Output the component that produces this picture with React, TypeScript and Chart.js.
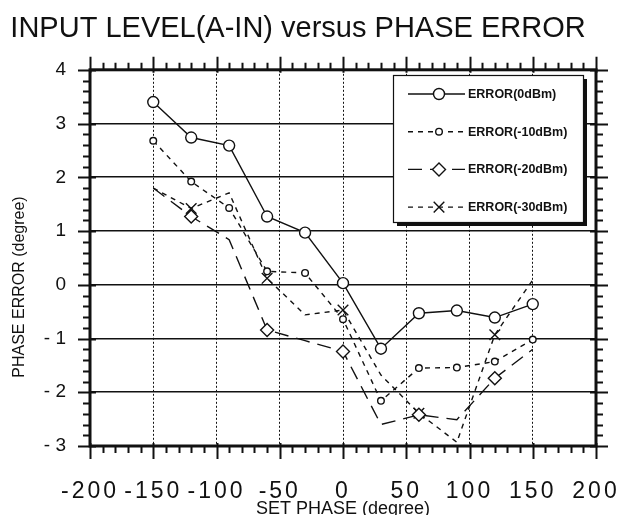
import React, { useEffect, useRef } from "react";
import { Chart, registerables } from "chart.js";

Chart.register(...registerables);

// ---- data ----
const phases = [-150, -120, -90, -60, -30, 0, 30, 60, 90, 120, 150];
const err0dBm = [3.4, 2.74, 2.59, 1.27, 0.97, 0.03, -1.19, -0.53, -0.48, -0.61, -0.36];
const errMinus10dBm = [2.68, 1.92, 1.43, 0.25, 0.22, -0.64, -2.16, -1.55, -1.54, -1.43, -1.02];
const errMinus20dBm = [1.8, 1.27, 0.84, -0.84, -1.04, -1.24, -2.6, -2.42, -2.51, -1.74, -1.2];
const errMinus30dBm = [1.8, 1.42, 1.71, 0.12, -0.56, -0.47, -1.68, -2.39, -2.93, -0.93, 0.09];
const seriesLabels = ["ERROR(0dBm)", "ERROR(-10dBm)", "ERROR(-20dBm)", "ERROR(-30dBm)"];

const chartTitle = "INPUT LEVEL(A-IN) versus PHASE ERROR";
const xTitle = "SET PHASE (degree)";
const yTitle = "PHASE ERROR (degree)";

const xMin = -200;
const xMax = 200;
const xMajorStep = 50;
const xMinorStep = 10;
const yMin = -3;
const yMax = 4;
const yMajorStep = 1;
const yMinorStep = 0.2;

const FONT = "'Liberation Sans', Arial, Helvetica, sans-serif";
const INK = "#111";

function drawMarker(ctx: CanvasRenderingContext2D, style: string, x: number, y: number, r: number) {
  ctx.beginPath();
  if (style === "circle") {
    ctx.arc(x, y, r, 0, Math.PI * 2);
    ctx.fill();
    ctx.stroke();
  } else if (style === "rectRot") {
    ctx.moveTo(x - r, y);
    ctx.lineTo(x, y - r);
    ctx.lineTo(x + r, y);
    ctx.lineTo(x, y + r);
    ctx.closePath();
    ctx.fill();
    ctx.stroke();
  } else if (style === "crossRot") {
    const d = r * Math.SQRT1_2;
    ctx.moveTo(x - d, y - d);
    ctx.lineTo(x + d, y + d);
    ctx.moveTo(x + d, y - d);
    ctx.lineTo(x - d, y + d);
    ctx.stroke();
  }
}

// x tick labels are drawn in a late layer (ticks.z = 1): give them the wide spacing of the original
const spacingPlugin = {
  id: "xLabelSpacing",
  afterDatasetsDraw(chart: any) {
    (chart.ctx as any).letterSpacing = "3px";
  },
  afterDraw(chart: any) {
    (chart.ctx as any).letterSpacing = "0px";
  },
};

const frameTicksPlugin = {
  id: "frameTicks",
  afterDraw(chart: any) {
    const { ctx, chartArea: a, scales } = chart;
    const xs = scales.x;
    const ys = scales.y;
    ctx.save();
    (ctx as any).letterSpacing = "0px";
    ctx.strokeStyle = INK;
    ctx.lineWidth = 2;
    ctx.setLineDash([]);
    const nx = Math.round((xMax - xMin) / xMinorStep);
    for (let i = 0; i <= nx; i++) {
      const v = xMin + i * xMinorStep;
      const px = Math.round(xs.getPixelForValue(v)) + 0.5;
      const major = Math.abs(v % xMajorStep) < 1e-6;
      const len = major ? 13 : 7;
      ctx.beginPath();
      ctx.moveTo(px, a.bottom - (major ? 3 : 0));
      ctx.lineTo(px, a.bottom + len);
      ctx.moveTo(px, a.top + (major ? 3 : 0));
      ctx.lineTo(px, a.top - len);
      ctx.stroke();
    }
    const ny = Math.round((yMax - yMin) / yMinorStep);
    for (let i = 0; i <= ny; i++) {
      const v = yMin + i * yMinorStep;
      const py = Math.round(ys.getPixelForValue(v)) + 0.5;
      const major = Math.abs(v - Math.round(v / yMajorStep) * yMajorStep) < 1e-6;
      const len = major ? 12 : 7;
      ctx.beginPath();
      ctx.moveTo(a.left + (major ? 6 : 0), py);
      ctx.lineTo(a.left - len, py);
      ctx.moveTo(a.right - (major ? 6 : 0), py);
      ctx.lineTo(a.right + len, py);
      ctx.stroke();
    }
    ctx.lineWidth = 3;
    ctx.strokeRect(a.left, a.top, a.right - a.left, a.bottom - a.top);

    // y axis title
    ctx.fillStyle = INK;
    ctx.font = `16px ${FONT}`;
    ctx.textAlign = "center";
    ctx.textBaseline = "middle";
    ctx.translate(20, 287);
    ctx.rotate(-Math.PI / 2);
    ctx.fillText(yTitle, 0, 0);
    ctx.restore();
  },
};

const boxLegendPlugin = {
  id: "boxLegend",
  afterDraw(chart: any) {
    const ctx: CanvasRenderingContext2D = chart.ctx;
    const bx = 393;
    const by = 75;
    const bw = 190;
    const bh = 147;
    ctx.save();
    (ctx as any).letterSpacing = "0px";
    ctx.fillStyle = INK;
    ctx.fillRect(bx + 4, by + 4, bw, bh);
    ctx.fillStyle = "#fff";
    ctx.fillRect(bx, by, bw, bh);
    ctx.strokeStyle = INK;
    ctx.lineWidth = 1.2;
    ctx.strokeRect(bx + 0.5, by + 0.5, bw, bh);

    chart.data.datasets.forEach((ds: any, i: number) => {
      const y = 94 + i * 37.7;
      ctx.strokeStyle = INK;
      ctx.lineWidth = ds.borderWidth;
      ctx.setLineDash(ds.borderDash || []);
      ctx.beginPath();
      ctx.moveTo(408, y);
      ctx.lineTo(465, y);
      ctx.stroke();
      ctx.setLineDash([]);
      ctx.fillStyle = "#fff";
      ctx.lineWidth = ds.pointBorderWidth;
      drawMarker(ctx, ds.pointStyle, 439, y, ds.legendRadius);
      ctx.fillStyle = INK;
      ctx.font = `bold 12.5px ${FONT}`;
      ctx.textAlign = "left";
      ctx.textBaseline = "middle";
      ctx.fillText(ds.label, 468, y + 0.5);
    });
    ctx.restore();
  },
};

export default function App() {
  const ref = useRef<HTMLCanvasElement | null>(null);

  useEffect(() => {
    document.body.style.margin = "0";
    const canvas = ref.current;
    if (!canvas) return;
    const toXY = (arr: number[]) => phases.map((x, i) => ({ x, y: arr[i] }));
    const everyOther = (r: number) => (c: any) => (c.dataIndex % 2 === 1 ? r : 0);

    const chart = new Chart(canvas, {
      type: "line",
      data: {
        datasets: [
          {
            label: seriesLabels[0],
            data: toXY(err0dBm),
            borderColor: INK,
            borderWidth: 1.4,
            pointStyle: "circle",
            pointRadius: 5.5,
            legendRadius: 5.5,
            pointBackgroundColor: "#fff",
            pointBorderColor: INK,
            pointBorderWidth: 1.4,
            fill: false,
            tension: 0,
          } as any,
          {
            label: seriesLabels[1],
            data: toXY(errMinus10dBm),
            borderColor: INK,
            borderWidth: 1.4,
            borderDash: [5, 5],
            pointStyle: "circle",
            pointRadius: 3.3,
            legendRadius: 3.3,
            pointBackgroundColor: "#fff",
            pointBorderColor: INK,
            pointBorderWidth: 1.4,
            fill: false,
            tension: 0,
          } as any,
          {
            label: seriesLabels[2],
            data: toXY(errMinus20dBm),
            borderColor: INK,
            borderWidth: 1.4,
            borderDash: [14, 8],
            pointStyle: "rectRot",
            pointRadius: everyOther(6.5),
            legendRadius: 6.5,
            pointBackgroundColor: "#fff",
            pointBorderColor: INK,
            pointBorderWidth: 1.4,
            fill: false,
            tension: 0,
          } as any,
          {
            label: seriesLabels[3],
            data: toXY(errMinus30dBm),
            borderColor: INK,
            borderWidth: 1.4,
            borderDash: [5, 5],
            pointStyle: "crossRot",
            pointRadius: everyOther(7.5),
            legendRadius: 7.5,
            pointBackgroundColor: "#fff",
            pointBorderColor: INK,
            pointBorderWidth: 1.4,
            fill: false,
            tension: 0,
          } as any,
        ],
      },
      options: {
        responsive: false,
        animation: false,
        events: [],
        layout: { padding: { left: 0, right: 27, top: 0, bottom: 0 } },
        plugins: {
          legend: { display: false },
          tooltip: { enabled: false },
          title: {
            display: true,
            text: chartTitle,
            color: INK,
            font: { size: 29, family: FONT, weight: "normal" },
            padding: { top: 12, bottom: 23 },
          },
        },
        scales: {
          x: {
            type: "linear",
            min: xMin,
            max: xMax,
            afterFit: (s: any) => {
              s.height = 69;
              s.paddingLeft = 0;
              s.paddingRight = 0;
            },
            border: { display: false, dash: [2, 2] },
            grid: { color: INK, lineWidth: 1, drawTicks: false, tickLength: 0 },
            ticks: {
              z: 1,
              stepSize: xMajorStep,
              autoSkip: false,
              maxRotation: 0,
              padding: 32,
              color: INK,
              font: { size: 23, family: FONT },
              callback: (v: any) => String(v),
            },
            title: {
              display: true,
              text: xTitle,
              color: INK,
              font: { size: 18, family: FONT },
              padding: { top: 0, bottom: -5 },
            },
          },
          y: {
            type: "linear",
            min: yMin,
            max: yMax,
            afterFit: (s: any) => {
              s.width = 90;
            },
            border: { display: false },
            grid: { color: INK, lineWidth: 1.6, drawTicks: false, tickLength: 0 },
            ticks: {
              stepSize: yMajorStep,
              padding: 24,
              color: INK,
              font: { size: 19, family: FONT },
              callback: (v: any) => (Number(v) < 0 ? "- " + Math.abs(Number(v)) : String(v)),
            },
          },
        },
      } as any,
      plugins: [spacingPlugin, frameTicksPlugin, boxLegendPlugin],
    });
    return () => chart.destroy();
  }, []);

  return (
    <div style={{ width: 623, height: 515 }}>
      <canvas ref={ref} width={623} height={515} style={{ display: "block", width: 623, height: 515 }} />
    </div>
  );
}
